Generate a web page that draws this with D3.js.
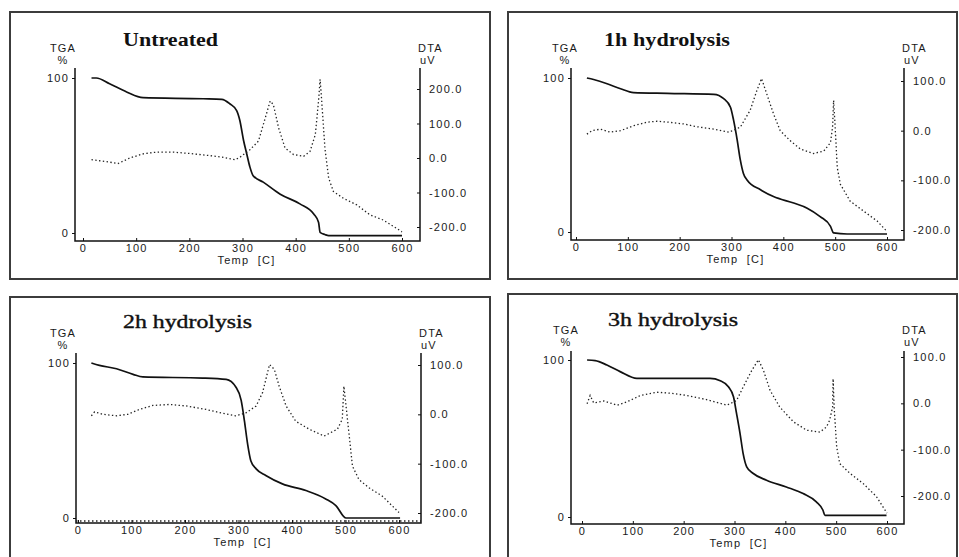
<!DOCTYPE html>
<html>
<head>
<meta charset="utf-8">
<script src="https://cdn.jsdelivr.net/npm/d3@7"></script>
<style>
  body { margin: 0; background: #fff; }
  svg { display: block; }
  .ax text, .lbl { font-family: "Liberation Sans", Arial, sans-serif; font-size: 11px; letter-spacing: 1.2px; fill: #1a1a1a; }
  .ttl { font-family: "Liberation Serif", "Times New Roman", serif; font-size: 19px; fill: #111; }
</style>
</head>
<body>
<div id="chart"></div>
<script>
// panel titles and ticks
const titles = ["Untreated", "1h hydrolysis", "2h hydrolysis", "3h hydrolysis"];
const xTicks = [0, 100, 200, 300, 400, 500, 600];
const tgaTicks = [0, 100];
const dtaTicks = [
  [-200, -100, 0, 100, 200],
  [-200, -100, 0, 100],
  [-200, -100, 0, 100],
  [-200, -100, 0, 100]
];

// TGA (%) vs temperature (C)
const untreatedTGA = [[16,100],[25,100],[50,96.3],[82,91],[113,87.3],[226,86.6],[261,86.2],[276,83.4],[289,79],[295,72.6],[302,59.7],[308,51],[314,42.5],[320,37],[339,32.8],[371,25],[408,18.8],[434,12.3],[443,6.9],[446,0.4],[455,-1],[462,-1.7],[600,-1.7]];
const oneHourTGA = [[21,100],[34,99],[60,96.3],[86,93],[111,90.5],[176,90],[266,89.4],[285,86.6],[298,81],[304,72.6],[311,59.7],[317,46.8],[323,38],[330,33.8],[356,27.4],[381,23],[420,18.8],[446,15.5],[471,10],[491,3.7],[497,-0.6],[523,-1.3],[600,-1.3]];
const twoHourTGA = [[25,100],[40,98.5],[72,96.3],[103,92.7],[121,91],[233,90.3],[277,89.4],[295,84.5],[305,75.9],[311,62.9],[317,47.8],[323,37],[333,31.7],[351,27.4],[382,22],[426,17.7],[463,12.3],[482,8],[501,0],[602,0]];
const threeHourTGA = [[10,100],[26,99.6],[49,96.8],[75,92.6],[108,88.3],[252,88.3],[272,86.8],[288,83],[298,76.6],[304,66],[311,53],[317,40.4],[324,32],[337,27.7],[363,23.4],[402,19.1],[435,14.9],[461,9.6],[474,4.3],[478,1],[599,1]];

// DTA (uV) vs temperature (C)
const untreatedDTA = [[16,-5],[31,-8],[50,-12],[66,-16],[88,0],[113,12],[138,17],[170,17],[201,13],[232,8],[264,2],[286,-5],[295,2],[314,24],[330,49],[343,117],[352,165],[358,155],[368,87],[380,29],[396,10],[415,5],[427,19],[437,68],[443,165],[446,228],[449,165],[455,29],[462,-58],[471,-97],[490,-117],[515,-136],[540,-165],[565,-180],[600,-214]];
const oneHourDTA = [[21,-7],[31,0],[47,3],[66,-3],[86,0],[111,10],[137,17],[156,19],[179,17],[208,13.5],[233,8],[266,3],[295,-3],[317,7],[336,41],[349,81],[358,105],[368,74],[381,34],[394,0],[413,-20],[433,-37],[458,-46],[478,-41],[491,-24],[495,7],[497,61],[500,7],[504,-74],[510,-108],[529,-142],[555,-162],[581,-182],[600,-203]];
const twoHourDTA = [[25,-3],[31,5],[47,0],[72,-3],[93,0],[115,10],[140,18],[171,20],[202,17],[239,10],[271,2],[295,-3],[314,3],[333,17],[345,44],[358,101],[367,91],[376,57],[389,17],[407,-14],[432,-30],[460,-44],[485,-30],[494,-10],[497,57],[501,17],[507,-44],[513,-105],[525,-132],[544,-149],[569,-166],[600,-199]];
const threeHourDTA = [[10,-1],[16,17],[23,1],[43,5],[69,-4],[88,3],[115,17],[147,24],[173,22],[206,17],[245,8],[285,-4],[304,6],[317,35],[334,71],[347,94],[357,71],[370,28],[389,-8],[416,-40],[442,-58],[468,-62],[481,-51],[487,-37],[493,-8],[494,53],[496,-8],[501,-94],[507,-130],[527,-151],[553,-173],[579,-201],[600,-237]];

const tgaSeries = [untreatedTGA, oneHourTGA, twoHourTGA, threeHourTGA];
const dtaSeries = [untreatedDTA, oneHourDTA, twoHourDTA, threeHourDTA];

// panel layout (pixels)
const layout = [
  {box: [10, 12, 480, 267], x: [83, 402], tga: [233, 78], dtaDom: [-200, 200], dta: [227, 89], left: 75, right: 420, top: 68, bottom: 241, tx: 123, ty: 46, tw: 95, bold: true, lx: 63, ly: 52},
  {box: [508, 12, 449, 267], x: [576, 887], tga: [232, 78], dtaDom: [-200, 100], dta: [230, 81], left: 571, right: 904, top: 68, bottom: 240, tx: 604, ty: 46, tw: 126, bold: true, lx: 565, ly: 52},
  {box: [10, 297, 480, 280], x: [78, 399], tga: [518, 363], dtaDom: [-200, 100], dta: [513, 365], left: 76, right: 421, top: 353, bottom: 523, tx: 123, ty: 328, tw: 129, bold: false, lx: 63, ly: 337, dotted: true},
  {box: [508, 294, 449, 280], x: [582, 887], tga: [517, 360], dtaDom: [-200, 100], dta: [496, 357], left: 571, right: 904, top: 351, bottom: 524, tx: 608, ty: 326, tw: 130, bold: false, lx: 566, ly: 334}
];

const width = 959, height = 557;
const svg = d3.select("#chart")
  .append("svg")
  .attr("width", width)
  .attr("height", height);

layout.forEach((L, i) => {
  const g = svg.append("g");

  // frame
  g.append("rect")
    .attr("x", L.box[0]).attr("y", L.box[1])
    .attr("width", L.box[2]).attr("height", L.box[3])
    .attr("fill", "none").attr("stroke", "#3c3c3c").attr("stroke-width", 2);

  const x = d3.scaleLinear().domain([0, 600]).range(L.x);
  const yT = d3.scaleLinear().domain([0, 100]).range(L.tga);
  const yD = d3.scaleLinear().domain(L.dtaDom).range(L.dta);

  // axis lines
  g.append("path")
    .attr("d", `M${L.left},${L.top}V${L.bottom}H${L.right}V${L.top}`)
    .attr("fill", "none").attr("stroke", "#111").attr("stroke-width", 1.5);

  if (L.dotted) {
    g.append("line")
      .attr("x1", L.left).attr("x2", L.right)
      .attr("y1", L.bottom - 2).attr("y2", L.bottom - 2)
      .attr("stroke", "#222").attr("stroke-width", 1.5)
      .attr("stroke-dasharray", "1.5,2.5");
  }

  g.append("g").attr("class", "ax").attr("color", "#111")
    .attr("transform", `translate(${L.left},0)`)
    .call(d3.axisLeft(yT).tickValues(tgaTicks).tickSize(3).tickPadding(3).tickFormat(d3.format("d")))
    .call(s => s.select(".domain").remove());

  g.append("g").attr("class", "ax").attr("color", "#111")
    .attr("transform", `translate(0,${L.bottom})`)
    .call(d3.axisBottom(x).tickValues(xTicks).tickSize(-3).tickPadding(3).tickFormat(d3.format("d")))
    .call(s => s.select(".domain").remove());

  g.append("g").attr("class", "ax").attr("color", "#111")
    .attr("transform", `translate(${L.right},0)`)
    .call(d3.axisRight(yD).tickValues(dtaTicks[i]).tickSize(-3).tickPadding(9).tickFormat(v => v.toFixed(1)))
    .call(s => s.select(".domain").remove());

  // curves
  const tgaLine = d3.line().x(d => x(d[0])).y(d => yT(d[1])).curve(d3.curveMonotoneX);
  const dtaLine = d3.line().x(d => x(d[0])).y(d => yD(d[1]));

  g.append("path").datum(tgaSeries[i])
    .attr("d", tgaLine)
    .attr("fill", "none").attr("stroke", "#111").attr("stroke-width", 1.7);

  g.append("path").datum(dtaSeries[i])
    .attr("d", dtaLine)
    .attr("fill", "none").attr("stroke", "#222").attr("stroke-width", 1.3)
    .attr("stroke-dasharray", "1.4,2.4");

  // labels
  g.append("text").attr("class", "lbl").attr("x", L.lx).attr("y", L.ly).attr("text-anchor", "middle").text("TGA");
  g.append("text").attr("class", "lbl").attr("x", L.lx).attr("y", L.ly + 12).attr("text-anchor", "middle").text("%");
  g.append("text").attr("class", "lbl").attr("x", L.right - 2).attr("y", L.ly).text("DTA");
  g.append("text").attr("class", "lbl").attr("x", L.right).attr("y", L.ly + 12).text("uV");
  g.append("text").attr("class", "lbl")
    .attr("x", (L.x[0] + L.x[1]) / 2 + 4).attr("y", L.bottom + 23)
    .attr("text-anchor", "middle").style("white-space", "pre")
    .text("Temp  [C]");

  // the 2h / 3h titles are a bit heavier than plain roman in the scan
  g.append("text").attr("class", "ttl")
    .attr("x", L.tx).attr("y", L.ty)
    .attr("font-weight", L.bold ? "bold" : "normal")
    .attr("stroke", L.bold ? "none" : "#111")
    .attr("stroke-width", 0.4)
    .attr("textLength", L.tw).attr("lengthAdjust", "spacingAndGlyphs")
    .text(titles[i]);
});
</script>
</body>
</html>
